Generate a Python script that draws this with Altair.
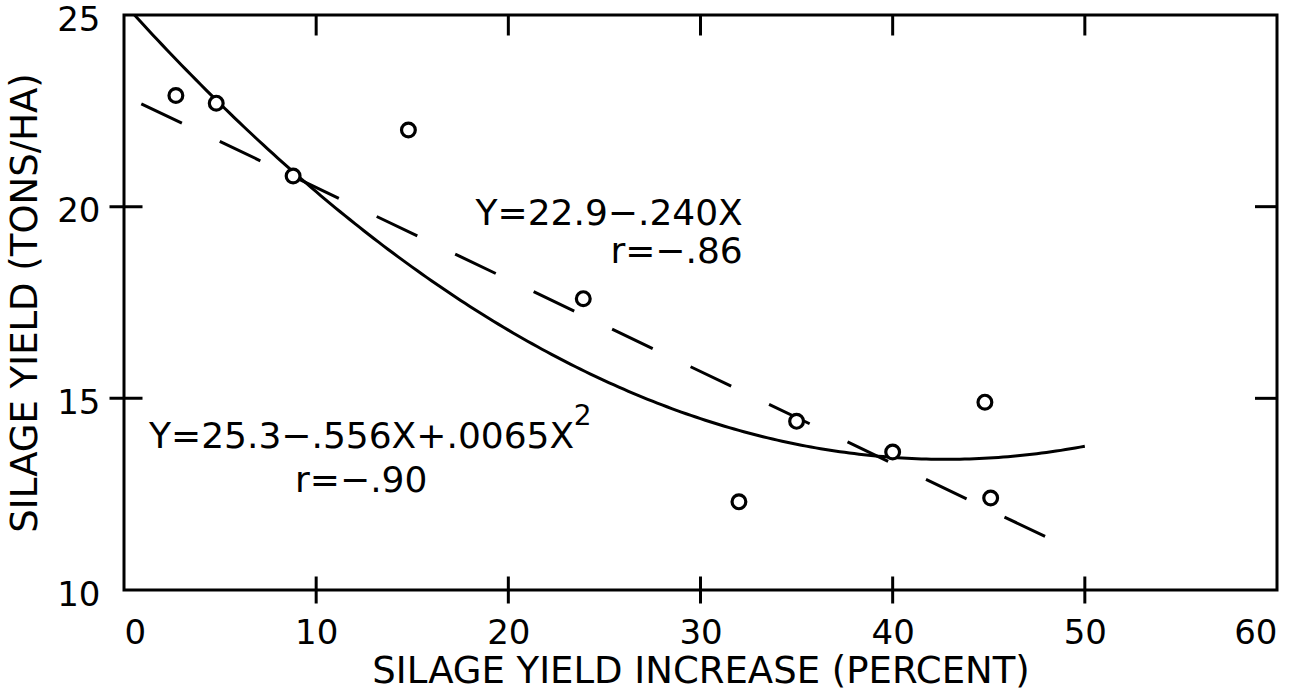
import altair as alt
import numpy as np
import pandas as pd

# Plot means: silage yield increase (%) vs silage yield (t/ha)
increase_pct = [2.7, 4.8, 8.8, 14.8, 23.9, 32.0, 35.0, 40.0, 44.8, 45.1]
silage_yield = [22.9, 22.7, 20.8, 22.0, 17.6, 12.3, 14.4, 13.6, 14.9, 12.4]

# Fitted regressions (coefficients as printed on the figure)
quad_coef = [25.3, -0.556, 0.0065]
quad_span = [0.0, 50.0]
lin_coef = [22.9, -0.240]
lin_span = [0.9, 49.0]

# Axis ticks
x_tick_values = [0, 10, 20, 30, 40, 50, 60]
y_tick_values = [10, 15, 20, 25]
x_inner_ticks = [10, 20, 30, 40, 50]
y_inner_ticks = [15, 20]

# Annotation text
lin_eq = "Y=22.9−.240X"
lin_r = "r=−.86"
quad_eq = "Y=25.3−.556X+.0065X"
quad_sup = "2"
quad_r = "r=−.90"

FONT = "DejaVu Sans"

xq = np.linspace(quad_span[0], quad_span[1], 201)
quad_df = pd.DataFrame({"x": xq, "y": quad_coef[0] + quad_coef[1] * xq + quad_coef[2] * xq ** 2})
lin_df = pd.DataFrame({"x": lin_span, "y": [lin_coef[0] + lin_coef[1] * v for v in lin_span]})
pts_df = pd.DataFrame({"x": increase_pct, "y": silage_yield})

x_scale = alt.Scale(domain=[0, 60], nice=False, zero=False)
y_scale = alt.Scale(domain=[10, 25], nice=False, zero=False)

x_axis = alt.Axis(values=x_tick_values, title="SILAGE YIELD INCREASE (PERCENT)",
                  labelPadding=26, titlePadding=3, tickSize=0)
y_axis = alt.Axis(values=y_tick_values, title="SILAGE YIELD (TONS/HA)",
                  labelPadding=24, titlePadding=12, tickSize=0, labelOffset=5)


def X(field="x"):
    return alt.X(f"{field}:Q", scale=x_scale, axis=x_axis)


def Y(field="y"):
    return alt.Y(f"{field}:Q", scale=y_scale, axis=y_axis)


curve = alt.Chart(quad_df).mark_line(color="black", strokeWidth=3, clip=True).encode(x=X(), y=Y())

dashed = alt.Chart(lin_df).mark_line(color="black", strokeWidth=3, strokeDash=[45, 42]).encode(
    x=X(), y=Y())

points = alt.Chart(pts_df).mark_point(
    shape="circle", size=190, fill="white", stroke="black", strokeWidth=3.2, opacity=1, filled=False
).encode(x=X(), y=Y())

# Frame ticks: bottom/left cross the frame, top/right point inward
xt = pd.DataFrame({"x": x_inner_ticks, "ybot": [10] * len(x_inner_ticks), "ytop": [25] * len(x_inner_ticks)})
yt = pd.DataFrame({"y": y_inner_ticks, "xl": [0] * len(y_inner_ticks), "xr": [60] * len(y_inner_ticks)})

tick_style = dict(color="black", thickness=3, opacity=1)
tick_bottom = alt.Chart(xt).mark_tick(orient="vertical", size=27, **tick_style).encode(
    x=X(), y=Y("ybot"))
tick_top = alt.Chart(xt).mark_tick(orient="vertical", size=21, yOffset=10, **tick_style).encode(
    x=X(), y=Y("ytop"))
tick_left = alt.Chart(yt).mark_tick(orient="horizontal", size=33, xOffset=2, **tick_style).encode(
    x=X("xl"), y=Y())
tick_right = alt.Chart(yt).mark_tick(orient="horizontal", size=22, xOffset=-11, **tick_style).encode(
    x=X("xr"), y=Y())

labels_df = pd.DataFrame([
    {"x": 32.2, "y": 19.52, "t": lin_eq, "a": "right"},
    {"x": 32.2, "y": 18.53, "t": lin_r, "a": "right"},
    {"x": 1.3, "y": 13.70, "t": quad_eq, "a": "left"},
    {"x": 8.9, "y": 12.55, "t": quad_r, "a": "left"},
])


def text_layer(df, align, size=36):
    return alt.Chart(df).mark_text(
        font=FONT, fontSize=size, color="black", align=align, baseline="alphabetic"
    ).encode(x=X(), y=Y(), text="t:N")


texts_right = text_layer(labels_df[labels_df.a == "right"], "right")
texts_left = text_layer(labels_df[labels_df.a == "left"], "left")
sup = text_layer(pd.DataFrame({"x": [23.4], "y": [14.3], "t": [quad_sup]}), "left", size=28)

chart = alt.layer(
    curve, dashed, points, tick_bottom, tick_top, tick_left, tick_right, texts_right, texts_left, sup
).properties(
    width=1153, height=575,
    autosize=alt.AutoSizeParams(type="none"),
    padding={"left": 124, "top": 15, "right": 33, "bottom": 107},
    background="white",
).configure_view(
    stroke="black", strokeWidth=3
).configure_axis(
    domain=False, ticks=False, grid=False,
    labelFont=FONT, labelFontSize=34, labelColor="black",
    titleFont=FONT, titleFontSize=37, titleColor="black", titleFontWeight="normal",
)

chart.save("out.html", embed_options={"renderer": "svg", "actions": False})
